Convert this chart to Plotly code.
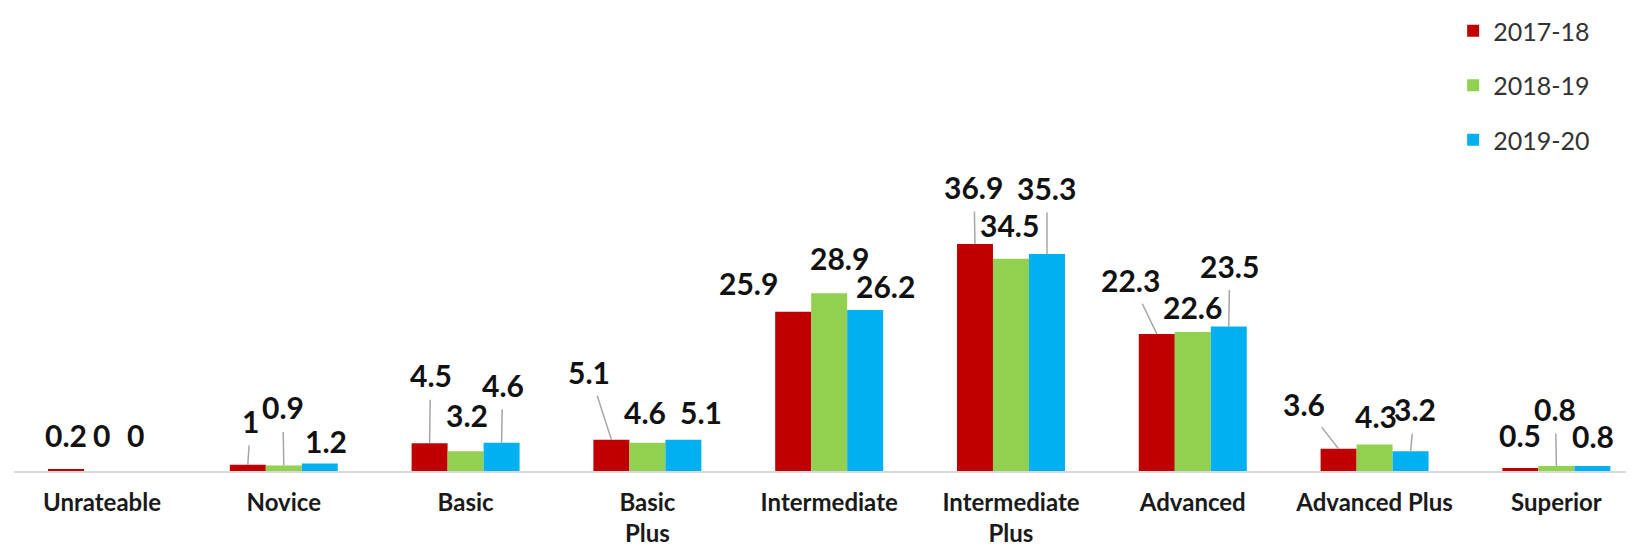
import plotly.graph_objects as go

# ---------------- data ----------------
categories = ["Unrateable", "Novice", "Basic", "Basic Plus", "Intermediate",
              "Intermediate Plus", "Advanced", "Advanced Plus", "Superior"]
tick_labels = ["Unrateable", "Novice", "Basic", "Basic<br>Plus", "Intermediate",
               "Intermediate<br>Plus", "Advanced", "Advanced Plus", "Superior"]
series_names = ["2017-18", "2018-19", "2019-20"]
values_2017_18 = [0.2, 1, 4.5, 5.1, 25.9, 36.9, 22.3, 3.6, 0.5]
values_2018_19 = [0, 0.9, 3.2, 4.6, 28.9, 34.5, 22.6, 4.3, 0.8]
values_2019_20 = [0, 1.2, 4.6, 5.1, 26.2, 35.3, 23.5, 3.2, 0.8]

# ---------------- style / layout ----------------
colors = ["#C00000", "#92D050", "#00B0F0"]
BARGAP = 0.406
FONT = "Lato"

# label placement (pixel offset of the label centre from the bar top, leader line flag)
label_layout = [
    # 2017-18
    [(0, -35, False), (3, -44, True), (1, -68, True), (-22, -68, True), (-45, -29, False),
     (-1, -57, True), (-26, -54, True), (-35, -45, True), (0, -33, False)],
    # 2018-19
    [(0, -36, False), (-1, -58, True), (1, -36, False), (-2, -31, False), (10, -35, False),
     (-1, -34, False), (0, -25, False), (1, -29, False), (-1, -57, True)],
    # 2019-20
    [(-2, -36, False), (6, -23, False), (1, -58, True), (18, -28, False), (20, -24, False),
     (0, -66, True), (1, -61, True), (4, -42, True), (1, -30, False)],
]

all_values = [values_2017_18, values_2018_19, values_2019_20]

fig = go.Figure()
for name, vals, col in zip(series_names, all_values, colors):
    fig.add_trace(go.Bar(
        x=categories, y=vals, name=name,
        marker=dict(color=col, line=dict(width=0)),
        legendgroup=name,
    ))

bar_w = (1 - BARGAP) / 3
annotations = []
for k, (vals, lay) in enumerate(zip(all_values, label_layout)):
    off = (k - 1) * bar_w
    for i, (v, (dx, dy, leader)) in enumerate(zip(vals, lay)):
        annotations.append(dict(
            x=i + off, y=v, xref="x", yref="y",
            text=f"{v:g}",
            showarrow=True, ax=dx, ay=dy, axref="pixel", ayref="pixel",
            arrowhead=0, arrowwidth=1.5, standoff=0, startstandoff=6,
            arrowcolor="#A6A6A6" if leader else "rgba(0,0,0,0)",
            font=dict(family=FONT, size=30, color="#111111", weight="bold"),
            borderpad=0,
        ))

fig.update_layout(
    width=1634, height=546,
    margin=dict(l=6, r=0, t=0, b=83, autoexpand=False),
    paper_bgcolor="white", plot_bgcolor="white",
    barmode="group", bargap=BARGAP, bargroupgap=0,
    annotations=annotations,
    legend=dict(
        x=0.884, y=1.0, xanchor="left", yanchor="top",
        font=dict(family=FONT, size=25, color="#333333"),
        traceorder="grouped", tracegroupgap=19,
        bgcolor="rgba(0,0,0,0)",
    ),
    xaxis=dict(
        range=[-0.484, 8.471], automargin=False,
        tickmode="array", tickvals=categories, ticktext=tick_labels,
        showline=True, linecolor="#D9D9D9", linewidth=2,
        showgrid=False, zeroline=False, ticks="",
        ticklabelstandoff=9,
        tickfont=dict(family=FONT, size=24, color="#1A1A1A", weight="bold"),
    ),
    yaxis=dict(range=[0, 75.3], visible=False, showgrid=False, zeroline=False,
               automargin=False),
    showlegend=True,
)

fig.write_html("out.html")
